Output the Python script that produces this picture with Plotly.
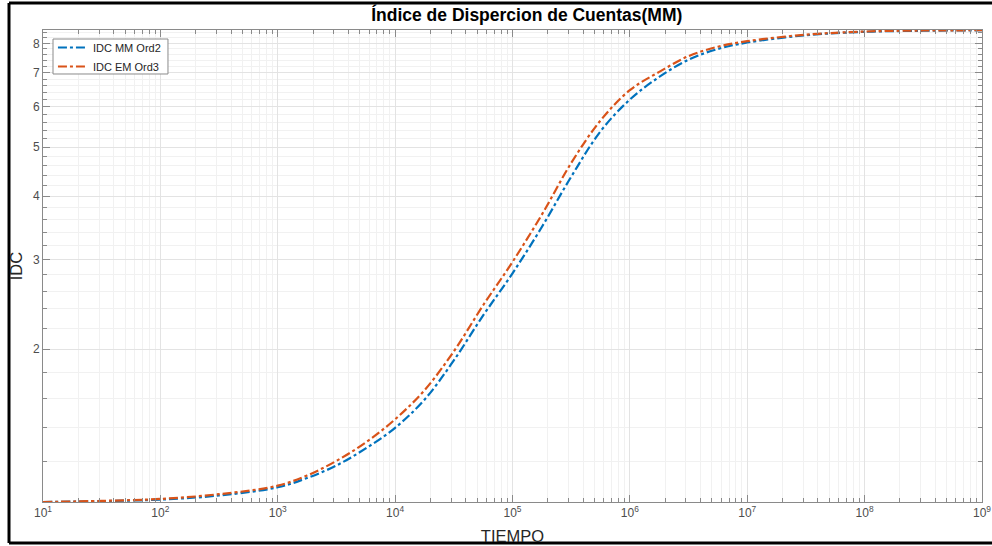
import plotly.graph_objects as go

# log10(TIEMPO) sample points
log_t = [1.0, 1.5, 2.0, 2.5, 3.0, 3.25, 3.5, 3.75, 4.0, 4.25, 4.5, 4.75, 5.0,
         5.25, 5.5, 5.75, 6.0, 6.25, 6.5, 6.75, 7.0, 7.5, 8.0, 8.5, 9.0]
tiempo = [10 ** v for v in log_t]

idc_mm_ord2 = [1.000, 1.004, 1.011, 1.030, 1.069, 1.115, 1.180, 1.275, 1.40, 1.59,
               1.90, 2.33, 2.82, 3.48, 4.37, 5.37, 6.20, 6.87, 7.43, 7.80,
               8.03, 8.30, 8.43, 8.47, 8.49]
idc_em_ord3 = [1.000, 1.005, 1.014, 1.036, 1.077, 1.128, 1.205, 1.31, 1.455, 1.66,
               1.98, 2.44, 2.97, 3.68, 4.65, 5.64, 6.47, 7.03, 7.55, 7.88,
               8.08, 8.32, 8.44, 8.48, 8.49]

x_major = [10 ** n for n in range(1, 10)]
x_labels = ["10<sup>%d</sup>" % n for n in range(1, 10)]
x_minor = [k * 10 ** n for n in range(1, 9) for k in range(2, 10)]
y_major = [2, 3, 4, 5, 6, 7, 8]
y_minor = [round(1 + 0.2 * i, 1) for i in range(1, 38)
           if abs((1 + 0.2 * i) - round(1 + 0.2 * i)) > 1e-6]

blue = "#0072BD"
orange = "#D95319"
font = "Liberation Sans, Arial, sans-serif"

fig = go.Figure()
fig.add_trace(go.Scatter(x=tiempo, y=idc_mm_ord2, mode="lines", name="IDC MM Ord2",
                         line=dict(color=blue, width=2.2, dash="dashdot", shape="spline")))
fig.add_trace(go.Scatter(x=tiempo, y=idc_em_ord3, mode="lines", name="IDC EM Ord3",
                         line=dict(color=orange, width=2.2, dash="dashdot", shape="spline")))

axis_common = dict(
    automargin=False,
    showline=True, linecolor="#8a8a8a", linewidth=1, mirror="allticks",
    ticks="inside", ticklen=7, tickcolor="#8a8a8a",
    showgrid=True, gridcolor="#e3e3e3", gridwidth=1, zeroline=False,
    tickfont=dict(family=font, size=12, color="#4d4d4d"),
)

fig.update_xaxes(
    type="log", range=[1, 9], tickmode="array", tickvals=x_major, ticktext=x_labels,
    minor=dict(tickmode="array", tickvals=x_minor, ticks="inside", ticklen=4,
               tickcolor="#8a8a8a", showgrid=True, gridcolor="#f1f1f1", gridwidth=1),
    title=dict(text="TIEMPO", font=dict(family=font, size=16.5, color="#262626"), standoff=11),
    **axis_common,
)
fig.update_yaxes(
    type="log", range=[0, 0.9294], tickmode="array", tickvals=y_major,
    ticktext=[str(v) for v in y_major],
    minor=dict(tickmode="array", tickvals=y_minor, ticks="inside", ticklen=4,
               tickcolor="#8a8a8a", showgrid=True, gridcolor="#f1f1f1", gridwidth=1),
    title=dict(text="IDC", font=dict(family=font, size=16.5, color="#262626"), standoff=6),
    **axis_common,
)

frame = dict(color="black", width=3)
fig.update_layout(
    width=992, height=546,
    margin=dict(l=43, r=10, t=30, b=44),
    paper_bgcolor="white", plot_bgcolor="white",
    title=dict(text="<b>Índice de Dispercion de Cuentas(MM)</b>", x=0.531, xanchor="center",
               y=0.972, yanchor="middle", font=dict(family=font, size=17.5, color="#000000")),
    legend=dict(x=0.0106, y=0.9936, xanchor="left", yanchor="top",
                bgcolor="rgba(0,0,0,0)", borderwidth=0,
                font=dict(family=font, size=11, color="#262626"),
                tracegroupgap=0, itemwidth=30),
    showlegend=True,
    shapes=[
        # legend box
        dict(type="rect", xref="paper", yref="paper", x0=0.01065, x1=0.1331, y0=0.9068, y1=0.9809,
             line=dict(color="#8a8a8a", width=1), fillcolor="white", layer="above"),
        # outer figure frame (left, top, bottom)
        dict(type="line", xref="paper", yref="paper", x0=-0.0362, x1=-0.0362, y0=-0.0869, y1=1.0572,
             line=frame, layer="above"),
        dict(type="line", xref="paper", yref="paper", x0=-0.0362, x1=1.2, y0=1.0572, y1=1.0572,
             line=frame, layer="above"),
        dict(type="line", xref="paper", yref="paper", x0=-0.0362, x1=1.2, y0=-0.0869, y1=-0.0869,
             line=frame, layer="above"),
    ],
)

fig.write_html("out.html")
